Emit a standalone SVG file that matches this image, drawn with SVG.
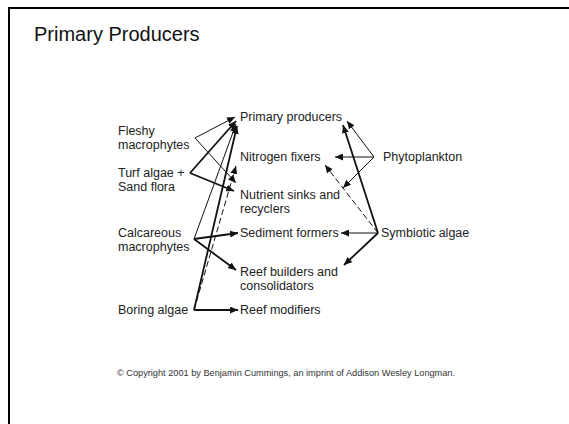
<svg xmlns="http://www.w3.org/2000/svg" width="569" height="424" viewBox="0 0 569 424">
  <style>
    .title { font-family: "Liberation Sans", Arial, sans-serif; font-size: 20px; fill: #111; }
    .lbl { font-family: "Liberation Sans", Arial, sans-serif; font-size: 12.5px; fill: #222; }
    .copy { font-family: "Liberation Sans", Arial, sans-serif; font-size: 9.2px; fill: #333; }
    .thin { stroke: #111; stroke-width: 1; fill: none; marker-end: url(#ah); }
    .thick { stroke: #111; stroke-width: 1.8; fill: none; marker-end: url(#ah); }
    .dash { stroke: #111; stroke-width: 1; fill: none; stroke-dasharray: 6 3; marker-end: url(#ah); }
  </style>
  <defs>
    <marker id="ah" markerUnits="userSpaceOnUse" markerWidth="9" markerHeight="7" refX="8" refY="3.5" orient="auto">
      <path d="M0,0 L8,3.5 L0,7 Z" fill="#111"/>
    </marker>
  </defs>

  <rect x="0" y="0" width="569" height="424" fill="#fff"/>
  <!-- slide frame -->
  <path d="M9,424 V8 H569" fill="none" stroke="#000" stroke-width="2"/>

  <text class="title" x="34" y="41">Primary Producers</text>

  <!-- source nodes (left) -->
  <g id="fleshy"><text class="lbl" x="118" y="135">Fleshy</text><text class="lbl" x="118" y="149">macrophytes</text></g>
  <g id="turf"><text class="lbl" x="118" y="177">Turf algae +</text><text class="lbl" x="118" y="191">Sand flora</text></g>
  <g id="calcareous"><text class="lbl" x="118" y="237">Calcareous</text><text class="lbl" x="118" y="251">macrophytes</text></g>
  <g id="boring"><text class="lbl" x="118" y="314">Boring algae</text></g>

  <!-- role nodes (middle) -->
  <g id="primary"><text class="lbl" x="240" y="121">Primary producers</text></g>
  <g id="nitrogen"><text class="lbl" x="240" y="161">Nitrogen fixers</text></g>
  <g id="nutrient"><text class="lbl" x="240" y="199">Nutrient sinks and</text><text class="lbl" x="240" y="213">recyclers</text></g>
  <g id="sediment"><text class="lbl" x="240" y="237">Sediment formers</text></g>
  <g id="builders"><text class="lbl" x="240" y="276">Reef builders and</text><text class="lbl" x="240" y="290">consolidators</text></g>
  <g id="modifiers"><text class="lbl" x="240" y="314">Reef modifiers</text></g>

  <!-- source nodes (right) -->
  <g id="phyto"><text class="lbl" x="383" y="161">Phytoplankton</text></g>
  <g id="symbiotic"><text class="lbl" x="381" y="237">Symbiotic algae</text></g>

  <g id="connectors">
    <!-- Fleshy macrophytes -->
    <path class="thin" d="M195,138 L235,117"/>
    <path class="thin" d="M195,138 L236,183"/>
    <!-- Turf algae + Sand flora -->
    <path class="thick" d="M190,173 L236,121"/>
    <path class="thick" d="M190,173 L234,191"/>
    <!-- Calcareous macrophytes -->
    <path class="thin" d="M194,239 L236,124"/>
    <path class="thick" d="M194,239 L238,233"/>
    <path class="thick" d="M194,239 L236,270"/>
    <!-- Boring algae -->
    <path class="thick" d="M194,310 L237,126"/>
    <path class="dash" d="M194,310 L236,166"/>
    <path class="thick" d="M194,310 L238,310"/>
    <!-- Phytoplankton -->
    <path class="thin" d="M374,157 L347,121"/>
    <path class="thin" d="M374,157 L335,157"/>
    <path class="thin" d="M374,157 L343,188"/>
    <!-- Symbiotic algae -->
    <path class="thick" d="M378,233 L343,125"/>
    <path class="dash" d="M378,233 L325,165"/>
    <path class="thin" d="M378,233 L341,233"/>
    <path class="thick" d="M378,233 L344,265"/>
  </g>

  <text class="copy" x="117" y="376">© Copyright 2001 by Benjamin Cummings, an imprint of Addison Wesley Longman.</text>
</svg>
